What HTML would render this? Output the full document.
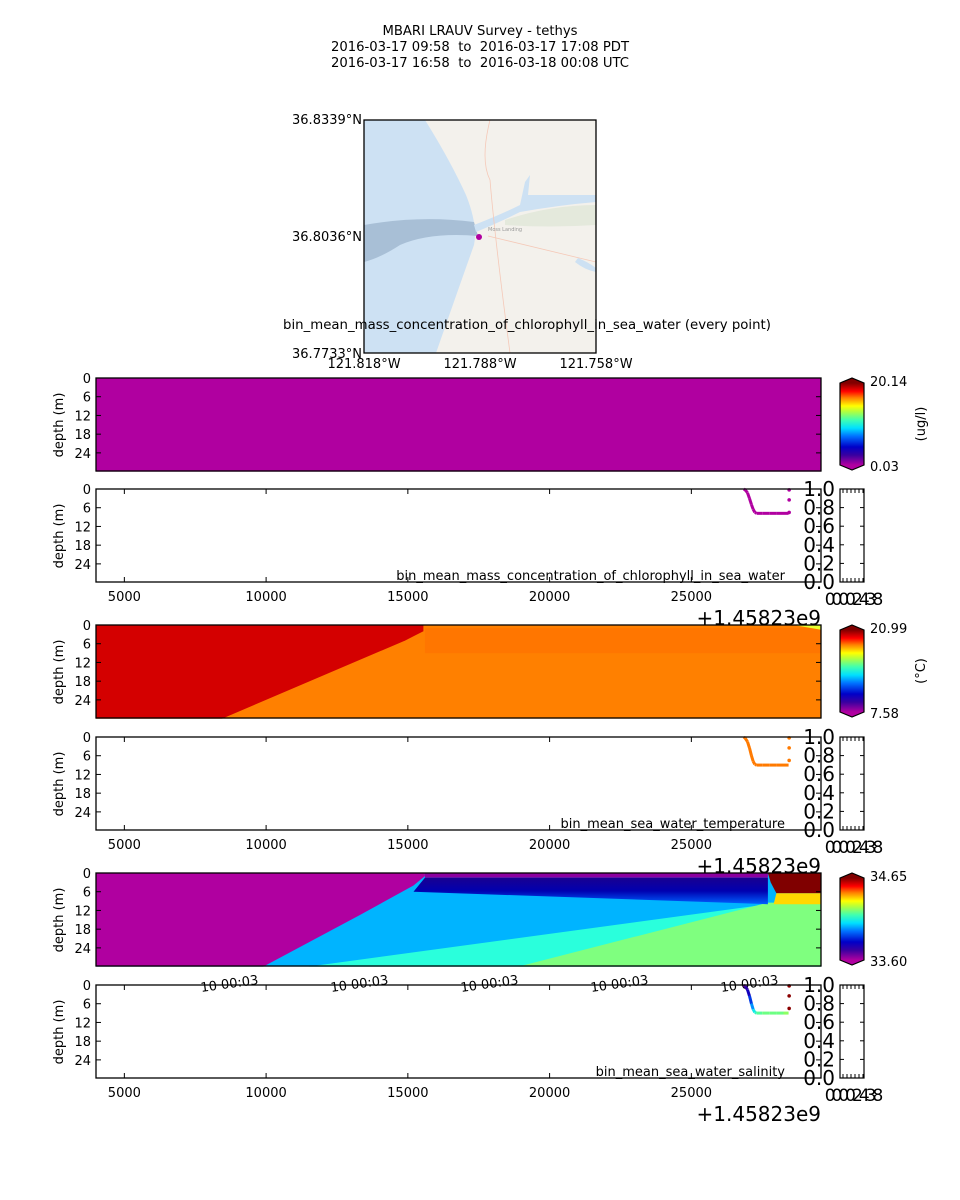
<!DOCTYPE html>
<html><head><meta charset="utf-8"><style>
body{margin:0;background:#fff;}
svg{display:block;font-family:"DejaVu Sans","Liberation Sans",sans-serif;}
text{white-space:pre;}
</style></head><body>
<svg id="fig" width="960" height="1200" viewBox="0 0 960 1200" xmlns="http://www.w3.org/2000/svg">
<defs>
<linearGradient id="cmap" x1="0" y1="1" x2="0" y2="0">
<stop offset="0" stop-color="#b000a0"/><stop offset="0.12" stop-color="#3a00a0"/><stop offset="0.22" stop-color="#0000c8"/><stop offset="0.35" stop-color="#0070ff"/><stop offset="0.45" stop-color="#00e0ff"/><stop offset="0.55" stop-color="#40ffb0"/><stop offset="0.65" stop-color="#b0ff40"/><stop offset="0.72" stop-color="#ffff00"/><stop offset="0.82" stop-color="#ff8000"/><stop offset="0.9" stop-color="#ff0000"/><stop offset="1" stop-color="#800000"/>
</linearGradient>
<linearGradient id="band" x1="0" y1="0" x2="0" y2="1">
<stop offset="0" stop-color="#1a0090"/><stop offset="0.5" stop-color="#0000b0"/><stop offset="1" stop-color="#0060ff"/>
</linearGradient>
<clipPath id="mapclip"><rect x="364" y="120" width="232" height="233"/></clipPath>
</defs>
<g font-size="13.2" text-anchor="middle">
<text x="480" y="35" xml:space="preserve">MBARI LRAUV Survey - tethys</text>
<text x="480" y="51" xml:space="preserve">2016-03-17 09:58  to  2016-03-17 17:08 PDT</text>
<text x="480" y="67" xml:space="preserve">2016-03-17 16:58  to  2016-03-18 00:08 UTC</text>
</g>
<g clip-path="url(#mapclip)">
<rect x="364" y="120" width="232" height="233" fill="#f3f1ec"/>
<path d="M364,120 L425,120 Q450,160 466,195 Q478,225 474,245 Q458,290 436,353 L364,353 Z" fill="#cde1f3"/>
<path d="M364,225 Q420,215 474,222 L478,236 Q430,232 400,245 Q380,258 364,262 Z" fill="#a8bfd6"/>
<path d="M474,225 Q500,215 520,205 L525,182 L530,175 L528,195 Q560,195 596,195 L596,202 Q560,205 520,212 Q500,222 476,232 Z" fill="#cde1f3"/>
<path d="M505,220 Q550,205 596,205 L596,225 Q550,228 505,225 Z" fill="#e4e9dc"/>
<path d="M575,262 Q585,270 596,272 L596,268 Q588,262 578,258 Z" fill="#cde1f3"/>
<path d="M490,120 Q480,160 490,180 Q495,240 510,353" stroke="#f5c9b8" stroke-width="0.8" fill="none"/>
<path d="M488,236 L596,262" stroke="#f5c9b8" stroke-width="0.8" fill="none"/>
<text x="488" y="231" font-size="5" fill="#999">Moss Landing</text>
<circle cx="479" cy="237" r="3" fill="#b000a0"/>
</g>
<rect x="364" y="120" width="232" height="233" fill="none" stroke="#000" stroke-width="1.3"/>
<g font-size="13">
<text x="362" y="124" text-anchor="end">36.8339°N</text>
<text x="362" y="241" text-anchor="end">36.8036°N</text>
<text x="362" y="358" text-anchor="end">36.7733°N</text>
<text x="364" y="368" text-anchor="middle">121.818°W</text>
<text x="480" y="368" text-anchor="middle">121.788°W</text>
<text x="596" y="368" text-anchor="middle">121.758°W</text>
</g>
<text x="527" y="329" font-size="13.3" text-anchor="middle">bin_mean_mass_concentration_of_chlorophyll_in_sea_water (every point)</text>
<g id="plots"></g>
</svg>
<script>
// ---- data ----
const depthTicks = [0, 6, 12, 18, 24];
const timeTicks = [5000, 10000, 15000, 20000, 25000];
const rightTicks = ['0.0', '0.2', '0.4', '0.6', '0.8', '1.0'];
const profTime = [26850, 26900, 26980, 27050, 27120, 27180, 27240, 27300, 27500, 27750, 28000, 28250, 28430];
const chlDepth = [0, 0.3, 1.2, 3, 5, 6.5, 7.5, 7.8, 7.8, 7.8, 7.8, 7.8, 7.8];
const tempDepth = [0, 0.4, 1.5, 3.5, 6, 7.8, 8.8, 9, 9, 9, 9, 9, 9];
const salDepth = [0, 0.4, 1.5, 3.5, 6, 7.8, 8.8, 9, 9, 9, 9, 9, 9];
const salValue = [33.62, 33.68, 33.75, 33.8, 33.9, 34.0, 34.1, 34.15, 34.2, 34.22, 34.22, 34.22, 34.25];
const extraTime = [28450, 28450, 28450];
const extraDepth = [0.3, 3.5, 7.5];
const chlRange = ['20.14', '0.03'];
const tempRange = ['20.99', '7.58'];
const salRange = ['34.65', '33.60'];
// temperature section regions (time, depth)
const tempRedT = [4000, 15550, 15550, 14900, 8450, 4000];
const tempRedD = [0, 0, 2, 5, 30, 30];
// salinity section regions
const salPurpleT = [4000, 15600, 15600, 15200, 13300, 9900, 4000];
const salPurpleD = [0, 0, 1, 4, 13.5, 30, 30];
const salCyanT = [11500, 27700, 29573, 29573];
const salCyanD = [30, 10, 10, 30];
const salGreenT = [18900, 27700, 29573, 29573];
const salGreenD = [30, 9.5, 9.5, 30];
const salBandT = [15600, 27700, 27700, 15200];
const salBandD = [1.5, 1.5, 10, 6];

const NS = 'http://www.w3.org/2000/svg';
const root = document.getElementById('plots');
const X0 = 96, X1 = 821;
const xs = t => X0 + (t - 4000) * 0.02835;
function mk(tag, attrs, parent) {
  const e = document.createElementNS(NS, tag);
  for (const k in attrs) e.setAttribute(k, attrs[k]);
  (parent || root).appendChild(e);
  return e;
}
function poly(T, D, top, fill, name) {
  const pts = T.map((t, i) => Math.min(X1, xs(t)).toFixed(1) + ',' + (top + D[i] * 3.12).toFixed(1)).join(' ');
  const p = mk('polygon', {points: pts, fill: fill});
  
  
  return p;
}
function depthAxis(top, name) {
  const g = mk('g', {'font-size': 13});
  
  
  depthTicks.forEach(d => {
    const y = top + d * 3.12;
    mk('text', {x: 91, y: y + 5, 'text-anchor': 'end'}, g).textContent = d;
    mk('line', {x1: X0, x2: X0 + 5, y1: y, y2: y, stroke: '#000'}, g);
    mk('line', {x1: X1 - 5, x2: X1, y1: y, y2: y, stroke: '#000'}, g);
  });
  const t = mk('text', {x: 63, y: top + 47, 'text-anchor': 'middle', transform: `rotate(-90 63 ${top + 47})`}, g);
  t.textContent = 'depth (m)';
}
function frame(top, name) {
  const r = mk('rect', {x: X0, y: top, width: X1 - X0, height: 93, fill: 'none', stroke: '#000', 'stroke-width': 1.3});
  
  
}
function colorbar(top, range, unit, name) {
  const g = mk('g', {});
  
  
  mk('rect', {x: 840, y: top + 5, width: 24, height: 82, fill: 'url(#cmap)'}, g);
  mk('polygon', {points: `840,${top + 5} 852,${top} 864,${top + 5}`, fill: '#800000'}, g);
  mk('polygon', {points: `840,${top + 87} 852,${top + 92} 864,${top + 87}`, fill: '#b000a0'}, g);
  mk('polygon', {points: `840,${top + 5} 852,${top} 864,${top + 5} 864,${top + 87} 852,${top + 92} 840,${top + 87}`, fill: 'none', stroke: '#000', 'stroke-width': 1.2}, g);
  mk('text', {x: 870, y: top + 8, 'font-size': 13}, g).textContent = range[0];
  mk('text', {x: 870, y: top + 93, 'font-size': 13}, g).textContent = range[1];
  mk('text', {x: 925, y: top + 46, 'font-size': 13, 'text-anchor': 'middle', transform: `rotate(-90 925 ${top + 46})`}, g).textContent = unit;
}
function profile(top, depths, colors, label, name) {
  const g = mk('g', {});
  
  
  profTime.forEach((t, i) => {
    if (i > 0) {
      mk('line', {x1: xs(profTime[i - 1]), y1: top + depths[i - 1] * 3.12, x2: xs(t), y2: top + depths[i] * 3.12, stroke: colors(i), 'stroke-width': 3}, g);
    }
  });
  extraTime.forEach((t, i) => {
    const c = mk('circle', {cx: xs(t), cy: top + extraDepth[i] * 3.12, r: 1.8, fill: name.indexOf('sal') >= 0 ? '#8a0000' : colors(0)}, g);
    
    
  });
  frame(top, name + '-frame');
  depthAxis(top, name + '-y-axis');
  const xa = mk('g', {'font-size': 13});
  
  
  timeTicks.forEach(t => {
    mk('text', {x: xs(t), y: top + 112, 'text-anchor': 'middle'}, xa).textContent = t;
    mk('line', {x1: xs(t), x2: xs(t), y1: top + 93, y2: top + 88, stroke: '#000'}, xa);
    mk('line', {x1: xs(t), x2: xs(t), y1: top, y2: top + 5, stroke: '#000'}, xa);
  });
  mk('text', {x: 821, y: top + 136, 'font-size': 20, 'text-anchor': 'end'}, xa).textContent = '+1.45823e9';
  const lb = mk('text', {x: 785, y: top + 91, 'font-size': 13, 'text-anchor': 'end'});
  
  
  lb.textContent = label;
  // twin right axis
  const ra = mk('g', {'font-size': 20});
  
  
  rightTicks.forEach((s, i) => {
    const y = top + 93 - i * 18.6;
    mk('text', {x: 835, y: y + 7, 'text-anchor': 'end'}, ra).textContent = s;
    mk('line', {x1: 840, x2: 844, y1: y, y2: y, stroke: '#000'}, ra);
    mk('line', {x1: 860, x2: 864, y1: y, y2: y, stroke: '#000'}, ra);
  });
  for (let k = 0; k < 6; k++) {
    const x = 843 + k * 4;
    mk('line', {x1: x, x2: x, y1: top, y2: top + 4, stroke: '#000'}, ra);
    mk('line', {x1: x, x2: x, y1: top + 93, y2: top + 89, stroke: '#000'}, ra);
  }
  mk('rect', {x: 840, y: top, width: 24, height: 93, fill: 'none', stroke: '#000', 'stroke-width': 1.2}, ra);
  mk('text', {x: 852, y: top + 116, 'font-size': 17, 'text-anchor': 'middle', 'letter-spacing': '-4'}, ra).textContent = '00002438';
}
const jet = v => {
  const f = Math.max(0, Math.min(1, (v - 33.60) / (34.65 - 33.60)));
  const stops = [[0,[176,0,160]],[0.12,[58,0,160]],[0.22,[0,0,200]],[0.35,[0,112,255]],[0.45,[0,224,255]],[0.55,[64,255,176]],[0.65,[176,255,64]],[0.72,[255,255,0]],[0.82,[255,128,0]],[0.9,[255,0,0]],[1,[128,0,0]]];
  for (let i = 1; i < stops.length; i++) if (f <= stops[i][0]) {
    const a = stops[i - 1], b = stops[i], u = (f - a[0]) / (b[0] - a[0]);
    return 'rgb(' + a[1].map((c, j) => Math.round(c + (b[1][j] - c) * u)).join(',') + ')';
  }
  return 'rgb(128,0,0)';
};

// ---- chlorophyll section ----
const T1 = 378;
poly([4000, 29573, 29573, 4000], [0, 0, 30, 30], T1, '#b000a0', 'chl-section-fill');
frame(T1, 'chl-section-frame'); depthAxis(T1, 'chl-section-y-axis');
colorbar(T1, chlRange, '(ug/l)', 'chl-colorbar');
profile(489, chlDepth, () => '#b000a0', 'bin_mean_mass_concentration_of_chlorophyll_in_sea_water', 'chl-profile');

// ---- temperature section ----
const T2 = 625;
poly([4000, 29573, 29573, 4000], [0, 0, 30, 30], T2, '#ff8000', 'temp-section-fill');
poly([15600, 29573, 29573, 15600], [1, 1, 9, 9], T2, '#ff7600', 'temp-warm-band');
poly(tempRedT, tempRedD, T2, '#d40000', 'temp-red-region');
poly([28600, 29573, 29573], [0, 0, 1.5], T2, '#e8ff30', 'temp-surface-warm');
frame(T2, 'temp-section-frame'); depthAxis(T2, 'temp-section-y-axis');
colorbar(T2, tempRange, '(°C)', 'temp-colorbar');
profile(737, tempDepth, () => '#ff7a00', 'bin_mean_sea_water_temperature', 'temp-profile');

// ---- salinity section ----
const T3 = 873;
poly([4000, 29573, 29573, 4000], [0, 0, 30, 30], T3, '#00b4ff', 'sal-section-fill');
poly(salCyanT, salCyanD, T3, '#2affdc', 'sal-cyan-region');
poly(salGreenT, salGreenD, T3, '#7fff7f', 'sal-green-region');
poly([15600, 27700, 27700, 15600], [0, 0, 1.5, 1.5], T3, '#8c00a0', 'sal-purple-strip');
poly(salBandT, salBandD, T3, 'url(#band)', 'sal-fresh-band');
poly(salPurpleT, salPurpleD, T3, '#b000a0', 'sal-purple-region');
poly([27700, 29573, 29573, 28000, 27800], [0, 0, 6.5, 6.5, 3], T3, '#800000', 'sal-salty-region');
poly([28000, 29573, 29573, 27900], [6.5, 6.5, 10, 10], T3, '#ffd800', 'sal-yellow-band');
frame(T3, 'sal-section-frame'); depthAxis(T3, 'sal-section-y-axis');
colorbar(T3, salRange, '', 'sal-colorbar');
const tl = mk('g', {'font-size': 13});


[230, 360, 490, 620, 750].forEach(x => {
  mk('text', {x: x, y: 988, 'text-anchor': 'middle', transform: `rotate(-8 ${x} 988)`}, tl).textContent = '10 00:03';
});
profile(985, salDepth, i => jet(salValue[i]), 'bin_mean_sea_water_salinity', 'sal-profile');
</script>
</body></html>
